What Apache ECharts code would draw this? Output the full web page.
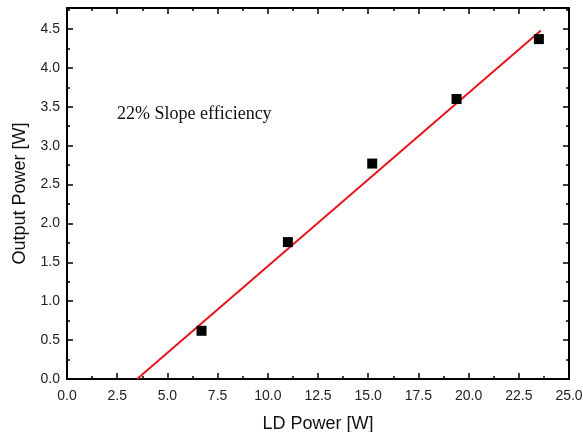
<!DOCTYPE html>
<html><head><meta charset="utf-8">
<script src="https://cdn.jsdelivr.net/npm/echarts@6/dist/echarts.min.js"></script>
<style>html,body{margin:0;padding:0;background:#fff}#c{width:583px;height:432px}</style>
</head><body><div id="c"></div>
<script>
const ldPower = [6.7, 11.0, 15.2, 19.4, 23.5];
const outPower = [0.62, 1.76, 2.77, 3.60, 4.37];
const fitX = [3.49, 23.6];
const fitY = [0.0, 4.48];
const xTitle = 'LD Power [W]';
const yTitle = 'Output Power [W]';
const note = '22% Slope efficiency';

const chart = echarts.init(document.getElementById('c'), null, {renderer:'canvas'});
const axisCommon = {
  axisLine:{show:true, onZero:false, lineStyle:{color:'#000', width:2}},
  axisTick:{show:true, inside:true, length:6, lineStyle:{color:'#000', width:1.5}},
  minorTick:{show:true, splitNumber:2, length:3, lineStyle:{color:'#000', width:1.5}},
  splitLine:{show:false}
};
chart.setOption({
  animation:false,
  grid:{left:67, right:14, top:8, bottom:53, containLabel:false, outerBoundsMode:'none'},
  xAxis:[
    Object.assign({type:'value', min:0, max:25, interval:2.5, position:'bottom',
      name:xTitle, nameLocation:'middle', nameGap:36,
      nameTextStyle:{fontFamily:'Liberation Sans', fontSize:18, color:'#111'},
      axisLabel:{fontFamily:'Liberation Sans', fontSize:14, color:'#222', margin:10,
        formatter:v=>v.toFixed(1)}}, axisCommon),
    Object.assign({type:'value', min:0, max:25, interval:2.5, position:'top',
      axisLabel:{show:false}}, axisCommon)
  ],
  yAxis:[
    Object.assign({type:'value', min:0, max:4.77, interval:0.5, position:'left',
      name:yTitle, nameLocation:'middle', nameGap:38, nameRotate:90,
      nameTextStyle:{fontFamily:'Liberation Sans', fontSize:18, color:'#111'},
      axisLabel:{fontFamily:'Liberation Sans', fontSize:14, color:'#222', margin:7, showMaxLabel:false,
        formatter:v=>(Math.abs(v/0.5-Math.round(v/0.5))<1e-6)?v.toFixed(1):''}}, axisCommon),
    Object.assign({type:'value', min:0, max:4.77, interval:0.5, position:'right',
      axisLabel:{show:false}}, axisCommon)
  ],
  graphic:[{type:'text', left:117, top:105,
    style:{text:note, fontFamily:'Liberation Serif', fontSize:18, fill:'#111'}}],
  series:[
    {type:'line', data:fitX.map((x,i)=>[x,fitY[i]]), showSymbol:false, symbol:'none',
      lineStyle:{color:'#e8141b', width:2}, z:2},
    {type:'scatter', data:ldPower.map((x,i)=>[x,outPower[i]]), symbol:'rect', symbolSize:10,
      itemStyle:{color:'#000', opacity:1}, z:3}
  ]
});
</script></body></html>
